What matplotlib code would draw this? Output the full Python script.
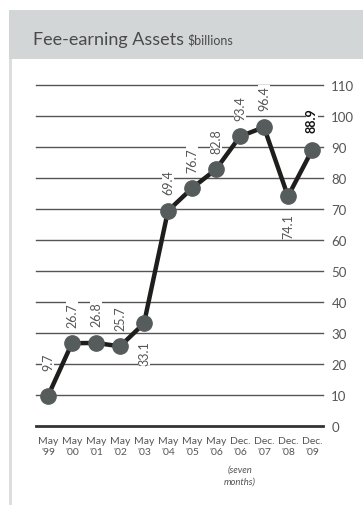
import matplotlib.pyplot as plt
from matplotlib.patches import Rectangle

plt.rcParams['font.family'] = ['Lato', 'DejaVu Sans']

periods = ["May\n'99", "May\n'00", "May\n'01", "May\n'02", "May\n'03", "May\n'04",
           "May\n'05", "May\n'06", "Dec.\n'06", "Dec.\n'07", "Dec.\n'08", "Dec.\n'09"]
assets = [9.7, 26.7, 26.8, 25.7, 33.1, 69.4, 76.7, 82.8, 93.4, 96.4, 74.1, 88.9]
label_below = [4, 10]
yticks = [0, 10, 20, 30, 40, 50, 60, 70, 80, 90, 100, 110]

grey = '#555555'
W, H = 363, 506

fig = plt.figure(figsize=(W / 100, H / 100), dpi=100)

# header band and left rule
fig.patches.append(Rectangle((9 / W, 1 - 60 / H), 1, 49 / H, transform=fig.transFigure,
                             facecolor='#d3d6d6', edgecolor='none', zorder=0))
fig.patches.append(Rectangle((9 / W, 0), 3 / W, 1 - 60 / H, transform=fig.transFigure,
                             facecolor='#dcdede', edgecolor='none', zorder=0))
title = fig.text(33 / W, 1 - 45 / H, 'Fee-earning Assets', fontsize=13, color='#4a4a4a',
                 va='baseline', ha='left')
fig.canvas.draw()
bb = title.get_window_extent()
fig.text(bb.x1 / W + 3 / W, 1 - 45 / H, r'\$billions', fontsize=9, color='#4a4a4a',
         va='baseline', ha='left')

ax = fig.add_axes([36 / W, 1 - 427 / H, 287 / W, 341 / H])
ax.set_xlim(-0.5, 11.46)
ax.set_ylim(0, 110)

for v in yticks:
    ax.axhline(v, color='#333333' if v == 0 else grey, lw=2 if v == 0 else 1, zorder=1,
               clip_on=False)

x = list(range(len(assets)))
ax.plot(x, assets, color='#1e1e1c', lw=3.2, zorder=3, solid_joinstyle='miter', clip_on=False)
ax.plot(x, assets, 'o', color='#565b5b', markersize=11, zorder=4, clip_on=False)

for i, v in enumerate(assets):
    below = i in label_below
    off = 19 if i == 0 else (12 if i != 11 else 13)
    ax.annotate(f'{v:.1f}', xy=(i, v), xytext=(0, -off if below else off),
                textcoords='offset points', rotation=90, ha='center',
                va='top' if below else 'bottom', fontsize=9,
                color='#111111' if i == 11 else grey,
                fontweight='bold' if i == 11 else 'normal',
                bbox=dict(facecolor='white', edgecolor='none', pad=0.3), zorder=2)

ax.yaxis.tick_right()
ax.set_yticks(yticks)
ax.set_yticklabels([str(v) for v in yticks])
ax.tick_params(axis='y', length=0, pad=6, labelsize=9.5, labelcolor=grey)
ax.set_xticks(x)
ax.set_xticklabels(periods)
ax.tick_params(axis='x', length=0, pad=7, labelsize=7.5, labelcolor=grey)
for lab in ax.get_xticklabels():
    lab.set_linespacing(1.35)
ax.text(8, -12.3, '(seven\nmonths)', ha='center', va='top', fontsize=6.8, style='italic',
        color=grey, linespacing=1.5)

for s in ax.spines.values():
    s.set_visible(False)

fig.savefig('out.png', dpi=100)
